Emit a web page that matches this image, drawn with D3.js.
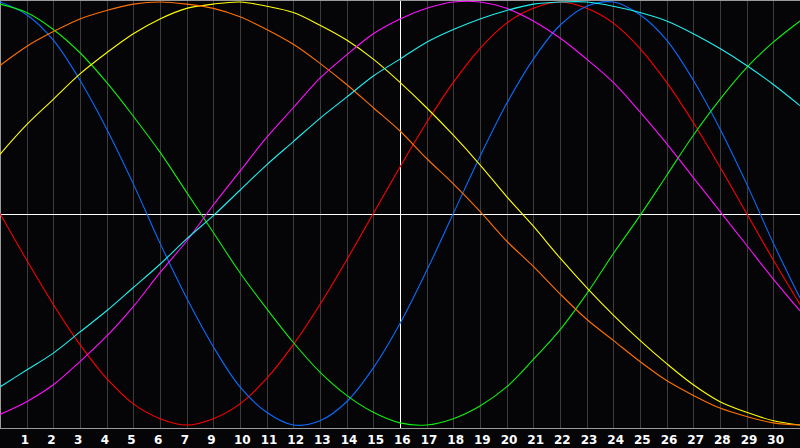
<!DOCTYPE html>
<html><head><meta charset="utf-8">
<script src="https://cdn.jsdelivr.net/npm/d3@7"></script>
<style>html,body{margin:0;padding:0;background:#050508;overflow:hidden}</style>
</head><body>
<svg id="c" width="800" height="448"></svg>
<script>
const days = [0,1,2,3,4,5,6,7,8,9,10,11,12,13,14,15,16,17,18,19,20,21,22,23,24,25,26,27,28,29,30];
const tickLabels = ["1","2","3","4","5","6","7","9","10","11","12","13","14","15","16","17","18","19","20","21","22","23","24","25","26","27","28","29","30"];
const red     = [0,-22,-43,-62,-78,-90,-97,-100,-97,-90,-78,-62,-43,-22,0,22,43,62,78,90,97,100,97,90,78,62,43,22,0,-22,-43];
const blue    = [100,94,82,63,40,14,-14,-40,-63,-82,-94,-100,-98,-89,-73,-52,-27,0,27,52,73,89,98,100,94,82,63,40,14,-14,-40];
const green   = [99,95,87,76,62,46,29,10,-9,-28,-45,-61,-75,-86,-94,-99,-100,-97,-91,-82,-69,-55,-38,-19,-1,18,37,54,69,81,91];
const yellow  = [28,42,54,66,76,85,92,97,99,100,98,95,89,82,73,62,50,37,23,8,-6,-21,-35,-48,-60,-71,-81,-89,-94,-98,-100];
const orange  = [70,79,86,92,96,99,100,99,97,93,87,80,71,61,50,39,26,14,1,-13,-25,-38,-50,-60,-70,-79,-86,-92,-96,-99,-100];
const magenta = [-95,-89,-81,-70,-58,-44,-28,-13,4,20,36,50,64,75,85,92,97,100,100,97,91,83,73,62,48,33,17,1,-15,-31,-46];
const cyan    = [-82,-74,-66,-56,-46,-35,-24,-12,-1,11,23,34,45,55,65,73,81,87,92,96,99,100,100,98,95,91,85,78,70,61,51];

const seriesList = [
  {values: red, color: "#ff0000"},
  {values: blue, color: "#0a6cff"},
  {values: green, color: "#10f010"},
  {values: yellow, color: "#ffff00"},
  {values: orange, color: "#ff7000"},
  {values: magenta, color: "#ff10ff"},
  {values: cyan, color: "#20f0f0"}
];

const W = 800, H = 448, plotBottom = 428;
const svg = d3.select("#c");
svg.append("rect").attr("width", W).attr("height", H).attr("fill", "#050508");

const x = d3.scaleLinear().domain([0, 30]).range([0, W]);
const y = d3.scaleLinear().domain([-100, 100]).range([425, 2]);

// vertical grid
const gridDays = days.slice(1, 30);
svg.append("g").selectAll("line").data(gridDays).join("line")
  .attr("x1", d => Math.round(x(d)) + 0.5).attr("x2", d => Math.round(x(d)) + 0.5)
  .attr("y1", 0).attr("y2", plotBottom)
  .attr("stroke", "#3c3c3c").attr("stroke-width", 1).attr("shape-rendering", "crispEdges");

// center lines
svg.append("line").attr("x1", 0).attr("x2", W)
  .attr("y1", Math.round(y(0)) + 0.5).attr("y2", Math.round(y(0)) + 0.5)
  .attr("stroke", "#ffffff").attr("shape-rendering", "crispEdges");
svg.append("line").attr("x1", Math.round(x(15)) + 0.5).attr("x2", Math.round(x(15)) + 0.5)
  .attr("y1", 0).attr("y2", plotBottom)
  .attr("stroke", "#ffffff").attr("shape-rendering", "crispEdges");

// borders
svg.append("line").attr("x1", 0).attr("x2", W).attr("y1", 0.5).attr("y2", 0.5)
  .attr("stroke", "#9a9a9a").attr("shape-rendering", "crispEdges");
svg.append("line").attr("x1", 0.5).attr("x2", 0.5).attr("y1", 0).attr("y2", plotBottom)
  .attr("stroke", "#9a9a9a").attr("shape-rendering", "crispEdges");
svg.append("line").attr("x1", 0).attr("x2", W).attr("y1", plotBottom + 0.5).attr("y2", plotBottom + 0.5)
  .attr("stroke", "#9a9a9a").attr("shape-rendering", "crispEdges");

// curves
const line = d3.line().x((d, i) => x(days[i])).y(d => y(d)).curve(d3.curveCatmullRom.alpha(0.5));
const cg = svg.append("g");
seriesList.forEach(s => {
  cg.append("path").attr("d", line(s.values)).attr("fill", "none")
    .attr("stroke", s.color).attr("stroke-width", 1.1);
});

// tick labels
svg.append("g").selectAll("text").data(tickLabels).join("text")
  .attr("x", (d, i) => x(gridDays[i]) - 6)
  .attr("y", 443.5)
  .attr("fill", "#ffffff")
  .attr("font-family", "DejaVu Sans, sans-serif")
  .attr("font-weight", "bold")
  .attr("font-size", 12)
  .text(d => d);
</script>
</body></html>
